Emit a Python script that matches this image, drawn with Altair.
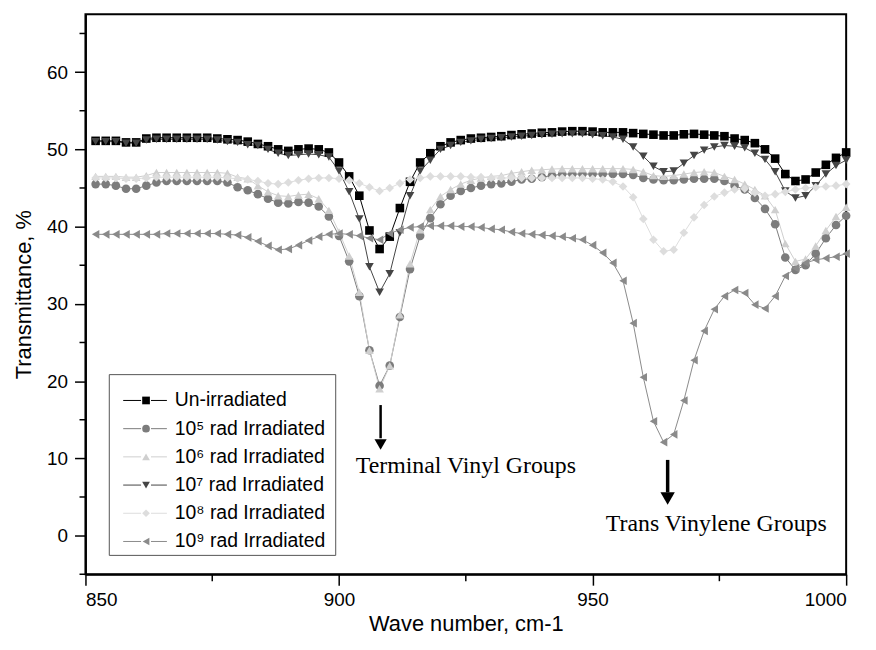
import altair as alt
import pandas as pd

# ---------------- data ----------------
wavenumber = [852, 854, 856, 858, 860, 862, 864, 866, 868, 870, 872, 874, 876, 878, 880,
              882, 884, 886, 888, 890, 892, 894, 896, 898, 900,
              902, 904, 906, 908, 910, 912, 914, 916, 918, 920, 922, 924, 926, 928, 930,
              932, 934, 936, 938, 940, 942, 944, 946, 948, 950,
              952, 954, 956, 958, 960, 962, 964, 966, 968, 970, 972, 974, 976, 978, 980,
              982, 984, 986, 988, 990, 992, 994, 996, 998, 1000]

unirradiated = [51.1, 51.1, 51.1, 50.9, 50.9, 51.4, 51.5, 51.5, 51.5, 51.5, 51.5, 51.5, 51.4, 51.3, 51.2,
                51.0, 50.7, 50.4, 50.0, 49.8, 50.0, 50.1, 50.0, 49.6, 48.3,
                46.5, 44.0, 39.5, 37.1, 38.7, 42.4, 45.8, 48.3, 49.5, 50.4, 50.9, 51.2, 51.4, 51.5, 51.6,
                51.7, 51.85, 51.95, 52.05, 52.15, 52.2, 52.3, 52.35, 52.35, 52.3,
                52.2, 52.2, 52.2, 52.1, 52.0, 51.9, 51.8, 51.8, 51.95, 52.0, 51.9, 51.8, 51.7, 51.4, 51.2,
                50.8, 50.0, 48.8, 46.8, 45.9, 46.1, 47.0, 48.0, 48.9, 49.6]

rad_1e5 = [45.5, 45.5, 45.3, 44.9, 44.9, 45.3, 45.7, 45.9, 45.9, 45.9, 45.9, 45.9, 45.9, 45.7, 45.1,
           44.7, 44.2, 43.6, 43.1, 43.0, 43.2, 43.1, 42.6, 41.3, 38.8,
           35.5, 31.0, 24.0, 19.4, 22.0, 28.3, 34.5, 38.8, 41.1, 42.9, 44.0, 44.6, 45.0, 45.3, 45.5,
           45.6, 45.8, 46.1, 46.2, 46.4, 46.6, 46.8, 46.8, 46.8, 46.8,
           46.8, 46.8, 46.8, 46.7, 46.3, 46.1, 46.0, 46.0, 46.1, 46.2, 46.2, 46.2, 45.9, 45.3, 44.8,
           43.7, 42.3, 40.3, 36.0, 34.4, 35.0, 36.5, 38.5, 40.2, 41.4]

rad_1e6 = [46.5, 46.5, 46.5, 46.4, 46.4, 46.6, 47.0, 47.0, 47.0, 47.0, 47.0, 47.0, 47.0, 46.9, 46.4,
           46.2, 45.3, 44.5, 44.0, 43.9, 44.1, 44.2, 43.6, 42.1, 39.3,
           36.2, 31.5, 24.0, 19.0, 22.0, 28.6, 35.2, 39.6, 42.2, 43.9, 44.8, 45.5, 46.0, 46.3, 46.5,
           46.6, 46.9, 47.1, 47.3, 47.35, 47.45, 47.5, 47.5, 47.5, 47.5,
           47.5, 47.5, 47.5, 47.4, 47.1, 46.6, 46.5, 46.6, 46.8, 47.0, 47.1, 47.0, 46.5, 46.1, 45.5,
           44.8, 44.0, 42.2, 37.8, 35.5, 35.8, 37.5, 39.5, 41.3, 42.5]

rad_1e7 = [51.0, 51.0, 51.0, 50.8, 50.8, 51.2, 51.3, 51.3, 51.3, 51.3, 51.3, 51.3, 51.2, 51.0, 50.9,
           50.6, 50.5, 50.0, 49.5, 49.2, 49.3, 49.4, 49.3, 49.0, 47.2,
           44.5, 41.0, 34.8, 31.5, 33.9, 39.2, 44.0, 47.2, 48.6, 50.0, 50.5, 50.9, 51.1, 51.3, 51.4,
           51.5, 51.6, 51.7, 51.8, 51.9, 51.95, 52.0, 52.0, 52.0, 51.9,
           51.75, 51.6, 51.3, 50.3, 49.1, 47.8, 47.1, 47.2, 48.2, 49.2, 49.9, 50.3, 50.5, 50.4, 50.2,
           49.5, 48.7, 47.1, 44.6, 43.7, 44.0, 45.3, 46.8, 47.9, 48.6]

rad_1e8 = [46.3, 46.3, 46.3, 46.2, 46.2, 46.3, 46.4, 46.4, 46.4, 46.4, 46.4, 46.4, 46.4, 46.3, 46.2,
           46.1, 45.9, 45.6, 45.5, 45.7, 46.0, 46.2, 46.3, 46.3, 46.2,
           46.0, 45.6, 45.1, 44.6, 45.0, 45.6, 46.1, 46.3, 46.5, 46.5, 46.5, 46.5, 46.4, 46.4, 46.3,
           46.3, 46.3, 46.3, 46.3, 46.3, 46.3, 46.3, 46.3, 46.3, 46.2,
           46.1, 45.8, 45.2, 43.8, 41.0, 38.3, 36.8, 37.0, 39.2, 41.2, 42.8, 43.9, 44.4, 44.8, 44.9,
           44.4, 44.0, 44.2, 44.5, 44.8, 45.0, 45.1, 45.2, 45.3, 45.5]

rad_1e9 = [39.0, 39.0, 39.0, 39.0, 39.0, 39.0, 39.0, 39.1, 39.1, 39.1, 39.1, 39.1, 39.1, 39.0, 38.9,
           38.6, 38.1, 37.5, 37.0, 37.1, 37.6, 38.2, 38.7, 39.0, 39.1,
           39.0, 38.8, 38.5, 38.3, 39.1, 39.6, 39.9, 40.0, 40.1, 40.1, 40.1, 40.0, 40.0, 39.9, 39.7,
           39.6, 39.3, 39.1, 39.0, 38.9, 38.8, 38.7, 38.5, 38.3, 37.6,
           36.6, 35.3, 33.0, 27.5, 20.5, 14.8, 12.1, 13.1, 17.5, 22.7, 26.5, 29.3, 31.0, 31.8, 31.4,
           29.9, 29.4, 31.0, 33.6, 34.6, 35.3, 35.7, 35.9, 36.1, 36.5]

series_names = ["Un-irradiated", "10⁵ rad Irradiated", "10⁶ rad Irradiated",
                "10⁷ rad Irradiated", "10⁸ rad Irradiated", "10⁹ rad Irradiated"]
series_values = [unirradiated, rad_1e5, rad_1e6, rad_1e7, rad_1e8, rad_1e9]
series_colors = ["#000000", "#7c7c7c", "#cfcfcf", "#454545", "#dddddd", "#8a8a8a"]
series_shapes = ["square", "circle", "triangle-up", "triangle-down", "diamond", "triangle-left"]

x_major = [850, 900, 950, 1000]
x_minor = [875, 925, 975]
y_major = [0, 10, 20, 30, 40, 50, 60]
y_minor = [-5, 5, 15, 25, 35, 45, 55, 65]

arrow_x = [908.2, 964.8]
arrow_top = [16.9, 9.8]
arrow_bottom = [12.6, 5.6]
arrow_head = [11.8, 4.8]
arrow_width = [2.5, 3.5]
arrow_head_size = [150, 210]

note_x = [903.3, 952.6]
note_y = [9.0, 1.5]
note_text = ["Terminal Vinyl Groups", "Trans Vinylene Groups"]

# ---------------- tables ----------------
rows = []
for name, vals in zip(series_names, series_values):
    for xv, yv in zip(wavenumber, vals):
        rows.append({"series": name, "x": xv, "y": yv})
df = pd.DataFrame(rows)

W, H = 766, 564
FONT = "Liberation Sans"

xscale = alt.Scale(domain=[850, 1000], nice=False, zero=False)
yscale = alt.Scale(domain=[-5, 67.5], nice=False, zero=False)
x_axis = alt.Axis(values=x_major, title="Wave number, cm-1", tickSize=11, labelPadding=5,
                  titlePadding=5, format="d")
y_axis = alt.Axis(values=y_major, title="Transmittance, %", tickSize=11, labelPadding=7,
                  titlePadding=11, format="d")


def X(field="x"):
    return alt.X(f"{field}:Q", scale=xscale, axis=x_axis)


def Y(field="y"):
    return alt.Y(f"{field}:Q", scale=yscale, axis=y_axis)


color = alt.Color("series:N", scale=alt.Scale(domain=series_names, range=series_colors), legend=None)
shape = alt.Shape("series:N", scale=alt.Scale(domain=series_names, range=series_shapes), legend=None)

lines = alt.Chart(df).mark_line(strokeWidth=1).encode(
    x=X(), y=Y(), color=color, detail="series:N")
points = alt.Chart(df).mark_point(filled=True, size=75, opacity=1).encode(
    x=X(), y=Y(), color=color, shape=shape)

minor_y_df = pd.DataFrame({"y": y_minor})
minor_x_df = pd.DataFrame({"x": x_minor})
minor_y_ticks = alt.Chart(minor_y_df).mark_rule(color="black", strokeWidth=1.5).encode(
    y=Y(), x=alt.value(-6), x2=alt.value(0))
minor_x_ticks = alt.Chart(minor_x_df).mark_rule(color="black", strokeWidth=1.5).encode(
    x=X(), y=alt.value(H), y2=alt.value(H + 7))

arrow_df = pd.DataFrame({"x": arrow_x, "y": arrow_top, "y2": arrow_bottom, "w": arrow_width,
                         "head": arrow_head, "hs": arrow_head_size})
shafts = alt.Chart(arrow_df).mark_rule(color="black").encode(
    x=X(), y=Y(), y2=alt.Y2("y2:Q"), strokeWidth=alt.StrokeWidth("w:Q", scale=None))
heads = alt.Chart(arrow_df).mark_point(shape="triangle-down", filled=True, color="black", opacity=1).encode(
    x=X(), y=Y("head"), size=alt.Size("hs:Q", scale=None))

note_df = pd.DataFrame({"x": note_x, "y": note_y, "t": note_text})
notes = alt.Chart(note_df).mark_text(align="left", baseline="middle", font="Liberation Serif",
                                     fontSize=24, color="black").encode(
    x=X(), y=Y(), text="t:N")

main = alt.layer(minor_y_ticks, minor_x_ticks, lines, points, shafts, heads, notes)

# ---------------- legend box ----------------
leg_df = pd.DataFrame({"series": series_names})
ly = alt.Y("series:N", sort=series_names,
           scale=alt.Scale(type="point", domain=series_names, range=[389, 531], padding=0),
           axis=None)
box = alt.Chart(pd.DataFrame({"k": [0]})).mark_rect(fill="white", stroke="#555555", strokeWidth=1).encode(
    x=alt.value(24), x2=alt.value(252), y=alt.value(363), y2=alt.value(545))
seg_left = alt.Chart(leg_df).mark_rule(strokeWidth=1).encode(
    x=alt.value(38), x2=alt.value(56), y=ly, color=color)
seg_right = alt.Chart(leg_df).mark_rule(strokeWidth=1).encode(
    x=alt.value(66), x2=alt.value(82), y=ly, color=color)
syms = alt.Chart(leg_df).mark_point(filled=True, size=60, opacity=1).encode(
    x=alt.value(61), y=ly, color=color, shape=shape)
labels = alt.Chart(leg_df).mark_text(align="left", baseline="middle", font=FONT, fontSize=19.5,
                                     color="black").encode(
    x=alt.value(90), y=ly, text="series:N")
legend = alt.layer(box, seg_left, seg_right, syms, labels)

chart = (
    alt.layer(main, legend)
    .resolve_scale(y="independent")
    .properties(width=W, height=H,
                autosize=alt.AutoSizeParams(type="none"),
                padding={"left": 78, "top": 4, "right": 22, "bottom": 62})
    .configure_view(stroke="black", strokeWidth=2)
    .configure_axis(domainColor="black", domainWidth=2, tickColor="black", tickWidth=1.5,
                    labelFont=FONT, labelFontSize=19, labelColor="black",
                    titleFont=FONT, titleFontSize=22, titleFontWeight="normal", titleColor="black",
                    grid=False)
)

chart.save("out.html", embed_options={"renderer": "svg", "actions": False})
